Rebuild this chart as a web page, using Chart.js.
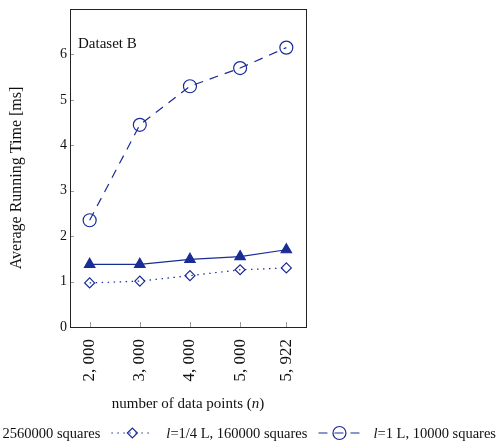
<!DOCTYPE html>
<html>
<head>
<meta charset="utf-8">
<script src="https://cdn.jsdelivr.net/npm/chart.js@4"></script>
<style>
  html, body { margin: 0; padding: 0; background: #fff; overflow: hidden; }
  #wrap { position: relative; width: 496px; height: 443px; }
</style>
</head>
<body>
<div id="wrap"><canvas id="chart"></canvas></div>
<script>
// values
const nPoints = [2000, 3000, 4000, 5000, 5922];
const xTickLabels = ['2, 000', '3, 000', '4, 000', '5, 000', '5, 922'];
const yTicks = [0, 1, 2, 3, 4, 5, 6];
const time16 = [1.38, 1.38, 1.49, 1.55, 1.70];
const time4 = [0.97, 1.01, 1.13, 1.26, 1.30];
const time1 = [2.35, 4.45, 5.30, 5.70, 6.15];
const seriesNames = ['l=1/16 L, 2560000 squares', 'l=1/4 L, 160000 squares', 'l=1 L, 10000 squares'];

const BLUE = '#1a2c96';
const SERIF = '"Liberation Serif", "DejaVu Serif", serif';

const toPoints = arr => arr.map((v, i) => ({ x: nPoints[i], y: v }));

const extras = {
    id: 'extras',
    afterDraw(chart) {
        const { ctx, chartArea: a, scales: { x, y } } = chart;
        ctx.save();

        // inside ticks
        ctx.strokeStyle = '#9a9a9a';
        ctx.lineWidth = 1;
        ctx.beginPath();
        yTicks.forEach(v => {
            const py = Math.round(y.getPixelForValue(v)) + 0.5;
            ctx.moveTo(a.left, py);
            ctx.lineTo(a.left + 4, py);
        });
        nPoints.forEach(v => {
            const px = Math.round(x.getPixelForValue(v)) + 0.5;
            ctx.moveTo(px, a.bottom);
            ctx.lineTo(px, a.bottom - 5);
        });
        ctx.stroke();

        // frame
        ctx.strokeStyle = '#222';
        ctx.strokeRect(Math.round(a.left) + 0.5, Math.round(a.top) + 0.5,
            Math.round(a.right - a.left), Math.round(a.bottom - a.top));

        ctx.fillStyle = '#111';
        ctx.textBaseline = 'middle';

        // dataset label
        ctx.font = '15px ' + SERIF;
        ctx.textAlign = 'left';
        ctx.fillText('Dataset B', a.left + 8, 44);

        // y title
        ctx.save();
        ctx.translate(17, 178);
        ctx.rotate(-Math.PI / 2);
        ctx.textAlign = 'center';
        ctx.font = '16px ' + SERIF;
        ctx.fillText('Average Running Time [ms]', 0, 0);
        ctx.restore();

        // x title with italic n
        const cx = (a.left + a.right) / 2;
        const parts = [['number of data points (', ''], ['n', 'italic '], [')', '']];
        let total = 0;
        parts.forEach(p => { ctx.font = p[1] + '15px ' + SERIF; total += ctx.measureText(p[0]).width; });
        let tx = cx - total / 2;
        ctx.textAlign = 'left';
        parts.forEach(p => {
            ctx.font = p[1] + '15px ' + SERIF;
            ctx.fillText(p[0], tx, 404);
            tx += ctx.measureText(p[0]).width;
        });

        // legend, right aligned like the reference (first entry runs off the left edge)
        const ly = 433;
        const fs = '14.5px ';
        const sampleW = 42, gapText = 13, gapEntry = 11;
        const widths = seriesNames.map(s => {
            ctx.font = 'italic ' + fs + SERIF;
            const w1 = ctx.measureText(s[0]).width;
            ctx.font = fs + SERIF;
            return w1 + ctx.measureText(s.slice(1)).width;
        });
        let legendW = 0;
        widths.forEach((w, i) => { legendW += sampleW + gapText + w + (i ? gapEntry : 0); });
        let lx = 496 - legendW;
        chart.data.datasets.forEach((ds, i) => {
            ctx.save();
            ctx.strokeStyle = ds.borderColor;
            ctx.lineWidth = ds.borderWidth;
            ctx.setLineDash(ds.borderDash || []);
            ctx.beginPath();
            ctx.moveTo(lx, ly);
            ctx.lineTo(lx + sampleW, ly);
            ctx.stroke();
            ctx.setLineDash([]);
            ctx.fillStyle = ds.pointBackgroundColor;
            Chart.helpers.drawPoint(ctx, {
                pointStyle: ds.pointStyle, radius: ds.pointRadius,
                rotation: 0, borderWidth: ds.borderWidth
            }, lx + sampleW / 2, ly);
            ctx.restore();
            let t = lx + sampleW + gapText;
            ctx.fillStyle = '#111';
            ctx.textAlign = 'left';
            ctx.font = 'italic ' + fs + SERIF;
            ctx.fillText(seriesNames[i][0], t, ly + 1);
            t += ctx.measureText(seriesNames[i][0]).width;
            ctx.font = fs + SERIF;
            ctx.fillText(seriesNames[i].slice(1), t, ly + 1);
            lx += sampleW + gapText + widths[i] + gapEntry;
        });

        ctx.restore();
    }
};

new Chart(document.getElementById('chart'), {
    type: 'line',
    data: {
        datasets: [
            {
                label: seriesNames[0],
                data: toPoints(time16),
                borderColor: BLUE,
                backgroundColor: BLUE,
                pointBackgroundColor: BLUE,
                pointBorderColor: BLUE,
                pointStyle: 'triangle',
                pointRadius: 6,
                borderWidth: 1.2,
                tension: 0
            },
            {
                label: seriesNames[1],
                data: toPoints(time4),
                borderColor: BLUE,
                pointBackgroundColor: 'rgba(255,255,255,0)',
                pointBorderColor: BLUE,
                pointStyle: 'rectRot',
                pointRadius: 5,
                borderWidth: 1.2,
                borderDash: [1.5, 4.5],
                tension: 0
            },
            {
                label: seriesNames[2],
                data: toPoints(time1),
                borderColor: BLUE,
                pointBackgroundColor: 'rgba(255,255,255,0)',
                pointBorderColor: BLUE,
                pointStyle: 'circle',
                pointRadius: 6.5,
                borderWidth: 1.2,
                borderDash: [9, 7],
                tension: 0
            }
        ]
    },
    options: {
        responsive: true,
        maintainAspectRatio: false,
        animation: false,
        layout: { padding: { left: 0, right: 190, top: 9, bottom: 32 } },
        plugins: { legend: { display: false }, tooltip: { enabled: false } },
        scales: {
            x: {
                type: 'linear',
                min: 1608,
                max: 6314,
                afterBuildTicks: scale => { scale.ticks = nPoints.map(v => ({ value: v })); },
                afterFit: scale => { scale.height = 84; scale.paddingLeft = 0; scale.paddingRight = 0; },
                grid: { display: false, drawTicks: false, tickLength: 0 },
                border: { display: false },
                ticks: {
                    minRotation: 90,
                    maxRotation: 90,
                    padding: 12,
                    color: '#111',
                    font: { family: SERIF, size: 17 },
                    callback: (v, i) => xTickLabels[i]
                }
            },
            y: {
                min: 0,
                max: 7,
                afterBuildTicks: scale => { scale.ticks = yTicks.map(v => ({ value: v })); },
                afterFit: scale => { scale.width = 70; scale.paddingTop = 0; scale.paddingBottom = 0; },
                grid: { display: false, drawTicks: false, tickLength: 0 },
                border: { display: false },
                ticks: {
                    padding: 3,
                    color: '#111',
                    font: { family: SERIF, size: 14 }
                }
            }
        }
    },
    plugins: [extras]
});
</script>
</body>
</html>
